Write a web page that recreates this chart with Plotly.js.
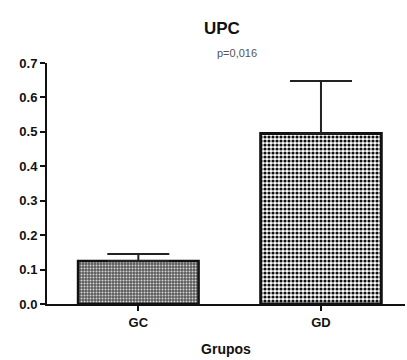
<!DOCTYPE html>
<html><head><meta charset="utf-8">
<script src="https://cdn.plot.ly/plotly-3.0.1.min.js"></script>
<style>html,body{margin:0;padding:0;background:#fff}</style>
</head><body>
<div id="chart" style="width:407px;height:360px"></div>
<script>
const categories = ["GC", "GD"];
const means = [0.125, 0.495];
const sem = [0.020, 0.153];
const yTicks = [0, 0.1, 0.2, 0.3, 0.4, 0.5, 0.6, 0.7];
const fontFam = "Liberation Sans, Arial, sans-serif";

const traces = [
  {
    type: "bar", x: [categories[0]], y: [means[0]],
    error_y: {type: "data", array: [sem[0]], arrayminus: [0], symmetric: false, color: "#222", thickness: 2, width: 31},
    marker: {color: "#666", line: {color: "#111", width: 2.5},
      pattern: {shape: ".", bgcolor: "#5a5a5a", fgcolor: "#d8d8d8", size: 3, solidity: 0.35, fillmode: "replace"}},
    width: 0.66, hoverinfo: "none"
  },
  {
    type: "bar", x: [categories[1]], y: [means[1]],
    error_y: {type: "data", array: [sem[1]], arrayminus: [0], symmetric: false, color: "#222", thickness: 2, width: 31},
    marker: {color: "#fff", line: {color: "#111", width: 3},
      pattern: {shape: ".", bgcolor: "#ffffff", fgcolor: "#111", size: 4, solidity: 0.5, fillmode: "replace"}},
    width: 0.66, hoverinfo: "none"
  }
];

const layout = {
  width: 407, height: 360,
  margin: {l: 47, r: 2, t: 63, b: 56},
  paper_bgcolor: "#fff", plot_bgcolor: "#fff",
  showlegend: false,
  font: {family: fontFam, color: "#111"},
  xaxis: {
    type: "category", range: [-0.5, 1.46],
    showline: true, linecolor: "#111", linewidth: 2,
    ticks: "outside", ticklen: 5, tickwidth: 2, tickcolor: "#111",
    showgrid: false, zeroline: false,
    tickfont: {family: fontFam, size: 13, color: "#111", weight: "bold"},
    title: {text: "<b>Grupos</b>", font: {family: fontFam, size: 14, color: "#111"}, standoff: 16}
  },
  yaxis: {
    range: [0, 0.7], tickvals: yTicks, tickformat: ".1f",
    showline: true, linecolor: "#111", linewidth: 2,
    ticks: "outside", ticklen: 5, tickwidth: 2, tickcolor: "#111",
    showgrid: false, zeroline: false,
    tickfont: {family: fontFam, size: 13, color: "#111", weight: "bold"}
  },
  annotations: [
    {text: "<b>UPC</b>", xref: "paper", yref: "paper", x: 0.49, y: 1, yshift: 35, showarrow: false,
     font: {family: fontFam, size: 17, color: "#111"}, yanchor: "middle"},
    {text: "p=0,016", xref: "paper", yref: "paper", x: 0.53, y: 1, yshift: 10, showarrow: false,
     font: {family: fontFam, size: 11, color: "#555555"}, yanchor: "middle"}
  ]
};

Plotly.newPlot("chart", traces, layout, {displayModeBar: false, staticPlot: true});
</script>
</body></html>
